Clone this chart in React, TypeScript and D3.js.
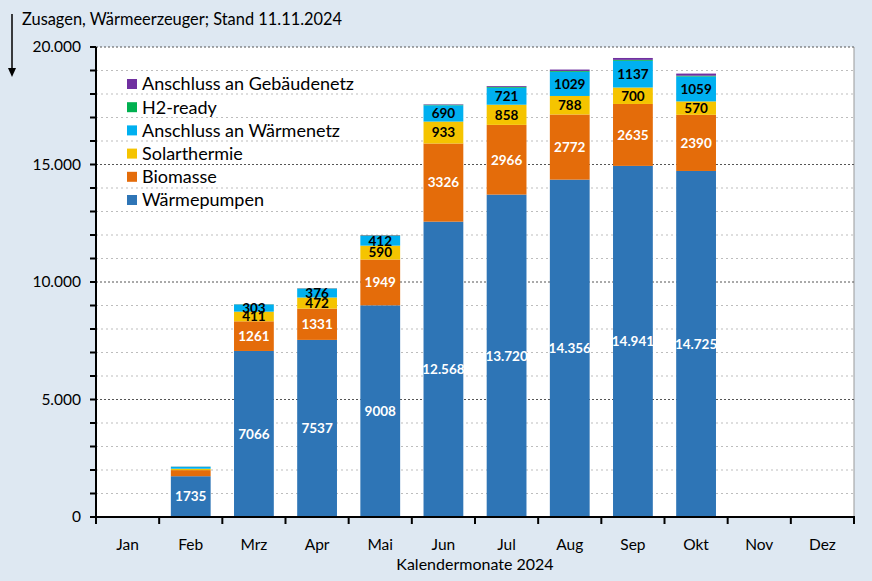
import React from "react";
import * as d3 from "d3";

const months = ["Jan", "Feb", "Mrz", "Apr", "Mai", "Jun", "Jul", "Aug", "Sep", "Okt", "Nov", "Dez"];
const waermepumpen = [0, 1735, 7066, 7537, 9008, 12568, 13720, 14356, 14941, 14725, 0, 0];
const biomasse = [0, 260, 1261, 1331, 1949, 3326, 2966, 2772, 2635, 2390, 0, 0];
const solarthermie = [0, 60, 411, 472, 590, 933, 858, 788, 700, 570, 0, 0];
const waermenetz = [0, 80, 303, 376, 412, 690, 721, 1029, 1137, 1059, 0, 0];
const h2ready = [0, 5, 10, 10, 20, 25, 40, 35, 40, 35, 0, 0];
const gebaeudenetz = [0, 5, 5, 10, 15, 20, 35, 60, 80, 90, 0, 0];
const yTicks = [0, 5000, 10000, 15000, 20000];

const seriesNames = ["Wärmepumpen", "Biomasse", "Solarthermie", "Anschluss an Wärmenetz", "H2-ready", "Anschluss an Gebäudenetz"];
const seriesValues = [waermepumpen, biomasse, solarthermie, waermenetz, h2ready, gebaeudenetz];
const seriesColors = ["#2E75B6", "#E46C0A", "#F5C400", "#00B0F0", "#00B050", "#7030A0"];
const labelColors = ["#fff", "#fff", "#000", "#000", null, null];

const W = 872, H = 581;
const left = 96, right = 854, top = 47, bottom = 517;
const FONT = "Lato, 'Open Sans', sans-serif";

const fmtThousands = d3.formatLocale({ decimal: ",", thousands: ".", grouping: [3], currency: ["", "€"] }).format(",d");
const fmtBar = (v: number) => (v >= 10000 ? fmtThousands(v) : String(v));

export default function App() {
  const x = d3.scaleBand<string>().domain(months).range([left, right]).paddingInner(0.37).paddingOuter(0.185);
  const xc = d3.scaleBand<string>().domain(months).range([left, right]).padding(0);
  const y = d3.scaleLinear().domain([0, 20000]).range([bottom, top]);

  const table = months.map((m, i) => {
    const row: any = { month: m };
    seriesNames.forEach((s, k) => (row[s] = seriesValues[k][i]));
    return row;
  });
  const stacked = d3.stack<any>().keys(seriesNames)(table);
  const minor = d3.range(1000, 20001, 1000);

  const legendY0 = 84;
  const legendOrder = [...seriesNames].reverse();

  return (
    <svg width={W} height={H} style={{ position: "fixed", left: 0, top: 0, display: "block" }} fontFamily={FONT}>
      <rect x={0} y={0} width={W} height={H} fill="#DEE8F2" />
      <rect x={left} y={top} width={right - left} height={bottom - top} fill="#fff" />
      <line x1={right} x2={right} y1={top} y2={bottom} stroke="#999" strokeWidth={1} />
      {minor.map((v) => (
        <line
          key={v}
          x1={left}
          x2={right}
          y1={y(v)}
          y2={y(v)}
          stroke={v % 5000 === 0 ? "#555" : "#bdbdbd"}
          strokeWidth={1}
          strokeDasharray={v % 5000 === 0 ? "2,2" : "2,3"}
        />
      ))}
      {stacked.map((layer, k) => (
        <g key={layer.key}>
          {layer.map((d, i) =>
            d[1] - d[0] > 0 ? (
              <rect
                key={i}
                x={x(months[i])}
                width={x.bandwidth()}
                y={y(d[1])}
                height={y(d[0]) - y(d[1])}
                fill={seriesColors[k]}
              />
            ) : null
          )}
        </g>
      ))}
      {stacked.map((layer, k) =>
        labelColors[k]
          ? layer.map((d, i) => {
              const v = seriesValues[k][i];
              if (v < 300) return null;
              return (
                <text
                  key={layer.key + i}
                  x={x(months[i])! + x.bandwidth() / 2}
                  y={(y(d[0]) + y(d[1])) / 2}
                  dy="0.36em"
                  textAnchor="middle"
                  fontSize={13.5}
                  fontWeight={700}
                  fill={labelColors[k]!}
                >
                  {fmtBar(v)}
                </text>
              );
            })
          : null
      )}
      {/* axes */}
      <line x1={left} x2={left} y1={top} y2={bottom} stroke="#000" strokeWidth={2} />
      <line x1={left - 1} x2={right + 1} y1={bottom} y2={bottom} stroke="#000" strokeWidth={2} />
      {[0, ...minor].map((v) => (
        <line key={"t" + v} x1={left - 6} x2={left} y1={y(v)} y2={y(v)} stroke="#000" strokeWidth={2} />
      ))}
      {yTicks.map((v) => (
        <text key={"l" + v} x={81} y={y(v)} dy="0.35em" textAnchor="end" fontSize={15.5} fill="#000">
          {v === 0 ? "0" : fmtThousands(v)}
        </text>
      ))}
      {months.map((m, i) => (
        <line key={"xt" + m} x1={xc(m)!} x2={xc(m)!} y1={bottom} y2={bottom + 7} stroke="#000" strokeWidth={2} />
      ))}
      <line x1={right} x2={right} y1={bottom} y2={bottom + 7} stroke="#000" strokeWidth={2} />
      {months.map((m) => (
        <text key={"xl" + m} x={xc(m)! + xc.bandwidth() / 2} y={545} dy="0.35em" textAnchor="middle" fontSize={15.5} fill="#000">
          {m}
        </text>
      ))}
      <text x={(left + right) / 2} y={564} dy="0.35em" textAnchor="middle" fontSize={16} fill="#000">
        Kalendermonate 2024
      </text>
      {/* title & arrow */}
      <text x={22} y={19} dy="0.35em" fontSize={16.4} fill="#000">
        Zusagen, Wärmeerzeuger; Stand 11.11.2024
      </text>
      <line x1={12} x2={12} y1={14} y2={70} stroke="#000" strokeWidth={1.5} />
      <path d="M8,68 L16,68 L12,77 Z" fill="#000" />
      {/* legend */}
      {legendOrder.map((s, j) => {
        const k = seriesNames.indexOf(s);
        const cy = legendY0 + j * 23.2;
        return (
          <g key={"lg" + s}>
            <rect x={127} y={cy - 5} width={10} height={10} fill={seriesColors[k]} />
            <text x={142} y={cy} dy="0.35em" fontSize={18} fill="#000">
              {s}
            </text>
          </g>
        );
      })}
    </svg>
  );
}
